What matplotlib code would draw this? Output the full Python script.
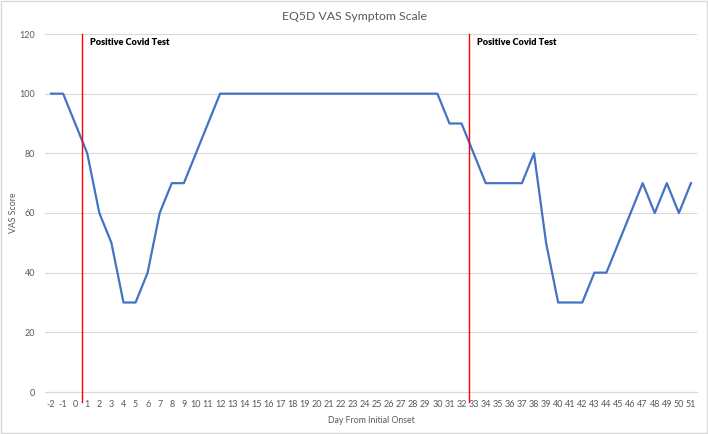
import matplotlib
matplotlib.use("Agg")
import matplotlib.pyplot as plt
from matplotlib.patches import Rectangle

plt.rcParams['font.family'] = ['Lato', 'DejaVu Sans']

days = list(range(-2, 52))
vas = [100, 100, 90, 80, 60, 50, 30, 30, 40, 60, 70, 70, 80, 90,
       100, 100, 100, 100, 100, 100, 100, 100, 100, 100, 100, 100, 100, 100, 100, 100, 100, 100, 100,
       90, 90, 80, 70, 70, 70, 70, 80, 50, 30, 30, 30, 40, 40, 50, 60, 70, 60, 70, 60, 70]
covid_tests = [0.53, 32.6]
annot_text = "Positive Covid Test"
yticks = [0, 20, 40, 60, 80, 100, 120]

fig = plt.figure(figsize=(7.08, 4.34), dpi=100)
ax = fig.add_axes([45/708, 42/434, 652/708, 358/434])

grey = "#595959"
ax.plot(days, vas, color="#4472C4", lw=1.6, zorder=3)
ax.set_xlim(days[0] - 0.5, days[-1] + 0.5)
ax.set_ylim(0, 120)
ax.set_yticks(yticks)
ax.set_xticks(days)
ax.set_xticklabels([str(d) for d in days])
ax.tick_params(axis="both", length=0, labelsize=6.5, labelcolor=grey)
ax.tick_params(axis="x", pad=6)
ax.tick_params(axis="y", pad=7)
ax.grid(axis="y", color="#d9d9d9", lw=0.8)
ax.set_axisbelow(True)
for s in ["top", "right", "left"]:
    ax.spines[s].set_visible(False)
ax.spines["bottom"].set_color("#d9d9d9")

for x in covid_tests:
    ax.plot([x, x], [120, -3.4], color="#ff0000", lw=1.0, clip_on=False, zorder=4)
    ax.text(x + 0.7, 117, annot_text, fontsize=6.6, fontweight="heavy",
            va="center", ha="left", color="black")

ax.set_ylabel("VAS Score", fontsize=6.3, color=grey)
ax.yaxis.set_label_coords(-(45 - 18) / 652, 0.5)
ax.set_xlabel("Day From Initial Onset", fontsize=6.3, color=grey)
ax.xaxis.set_label_coords(0.5, -(416 - 392) / 358)
fig.text(0.5, 1 - 16/434, "EQ5D VAS Symptom Scale", ha="center", va="center",
         fontsize=8.8, color=grey)
fig.patches.append(Rectangle((1/708, 1/434), 706/708, 432/434, transform=fig.transFigure,
                             fill=False, edgecolor="#d9d9d9", lw=1))
fig.savefig("out.png", dpi=100)
